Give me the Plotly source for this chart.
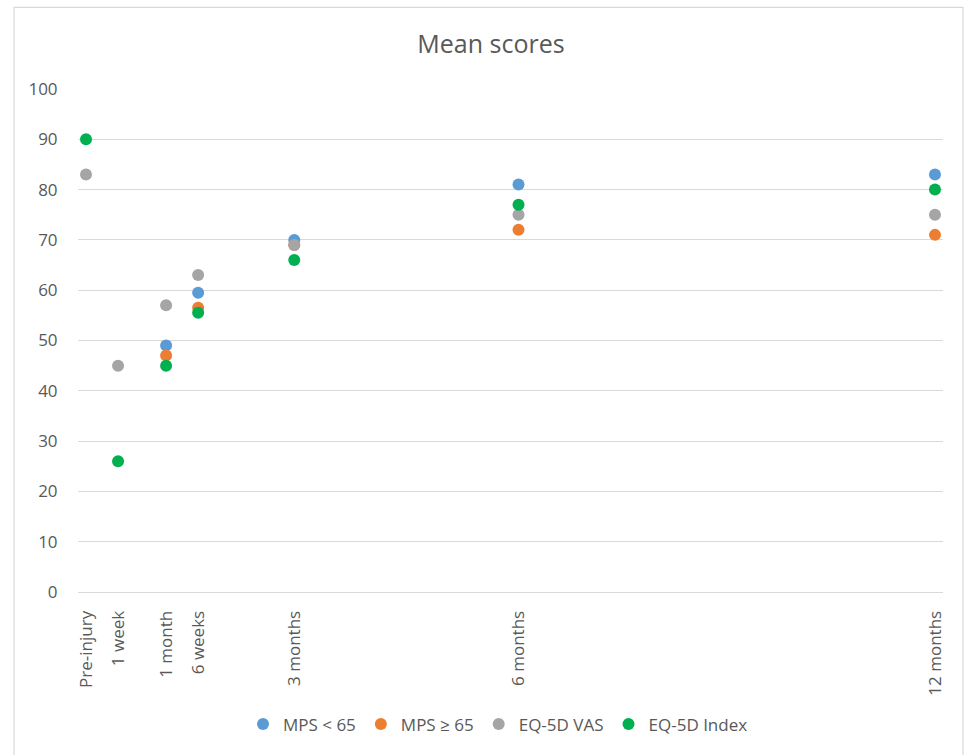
import plotly.graph_objects as go

# Assessment time points (weeks after injury; pre-injury placed just before week 0)
time_labels = ["Pre-injury", "1 week", "1 month", "6 weeks", "3 months", "6 months", "12 months"]
time_weeks = [-1, 1, 4, 6, 12, 26, 52]

# Mean scores per series at each time point (None = not measured)
mps_under_65 = [None, None, 49, 59.5, 70, 81, 83]
mps_65_plus = [None, None, 47, 56.5, 69, 72, 71]
eq5d_vas = [83, 45, 57, 63, 69, 75, 75]
eq5d_index = [90, 26, 45, 55.5, 66, 77, 80]

series_names = ["MPS < 65", "MPS \u2265 65", "EQ-5D VAS", "EQ-5D Index"]
series_values = [mps_under_65, mps_65_plus, eq5d_vas, eq5d_index]
series_colors = ["#5B9BD5", "#ED7D31", "#A5A5A5", "#00B050"]

FONT = "Open Sans"
TEXT = "#595959"
GRID = "#D9D9D9"

W, H = 967, 755
ML, MR, MT, MB = 78, 24, 89, 161
PW, PH = W - ML - MR, H - MT - MB

fig = go.Figure()
for name, vals, col in zip(series_names, series_values, series_colors):
    fig.add_trace(go.Scatter(
        x=time_weeks, y=vals, name=name, mode="markers",
        marker=dict(size=12, color=col, line=dict(width=0)),
    ))

# outer chart frame
def px_to_paper_x(px):
    return (px - ML) / PW

def px_to_paper_y(py):
    return (H - MB - py) / PH

fig.add_shape(
    type="rect", xref="paper", yref="paper",
    x0=px_to_paper_x(14), x1=px_to_paper_x(963),
    y0=px_to_paper_y(770), y1=px_to_paper_y(7),
    line=dict(color=GRID, width=1.2), fillcolor="rgba(0,0,0,0)", layer="below",
)

fig.update_layout(
    width=W, height=H,
    margin=dict(l=ML, r=MR, t=MT, b=MB),
    paper_bgcolor="white", plot_bgcolor="white",
    font=dict(family=FONT, size=17, color=TEXT),
    title=dict(
        text="Mean scores", x=491 / W, xref="container", xanchor="center",
        y=1 - 44 / H, yref="container", yanchor="middle",
        font=dict(family=FONT, size=25, color=TEXT),
    ),
    showlegend=True,
    legend=dict(
        orientation="h", x=px_to_paper_x(498), xanchor="center",
        y=px_to_paper_y(727), yanchor="middle",
        font=dict(family=FONT, size=17, color=TEXT),
        bgcolor="rgba(0,0,0,0)", itemsizing="constant",
    ),
    xaxis=dict(
        range=[-1.5, 52.5], tickmode="array", tickvals=time_weeks, ticktext=time_labels,
        tickangle=-90, showgrid=False, zeroline=False, showline=False,
        ticks="outside", ticklen=11, tickcolor="rgba(0,0,0,0)",
        tickfont=dict(family=FONT, size=17, color=TEXT), fixedrange=True,
    ),
    yaxis=dict(
        range=[0, 100], dtick=10, showgrid=True, gridcolor=GRID, gridwidth=1.2,
        zeroline=True, zerolinecolor=GRID, zerolinewidth=1.2, showline=False,
        ticks="outside", ticklen=16, tickcolor="rgba(0,0,0,0)",
        tickfont=dict(family=FONT, size=17, color=TEXT), fixedrange=True,
    ),
)

fig.write_html("out.html")
